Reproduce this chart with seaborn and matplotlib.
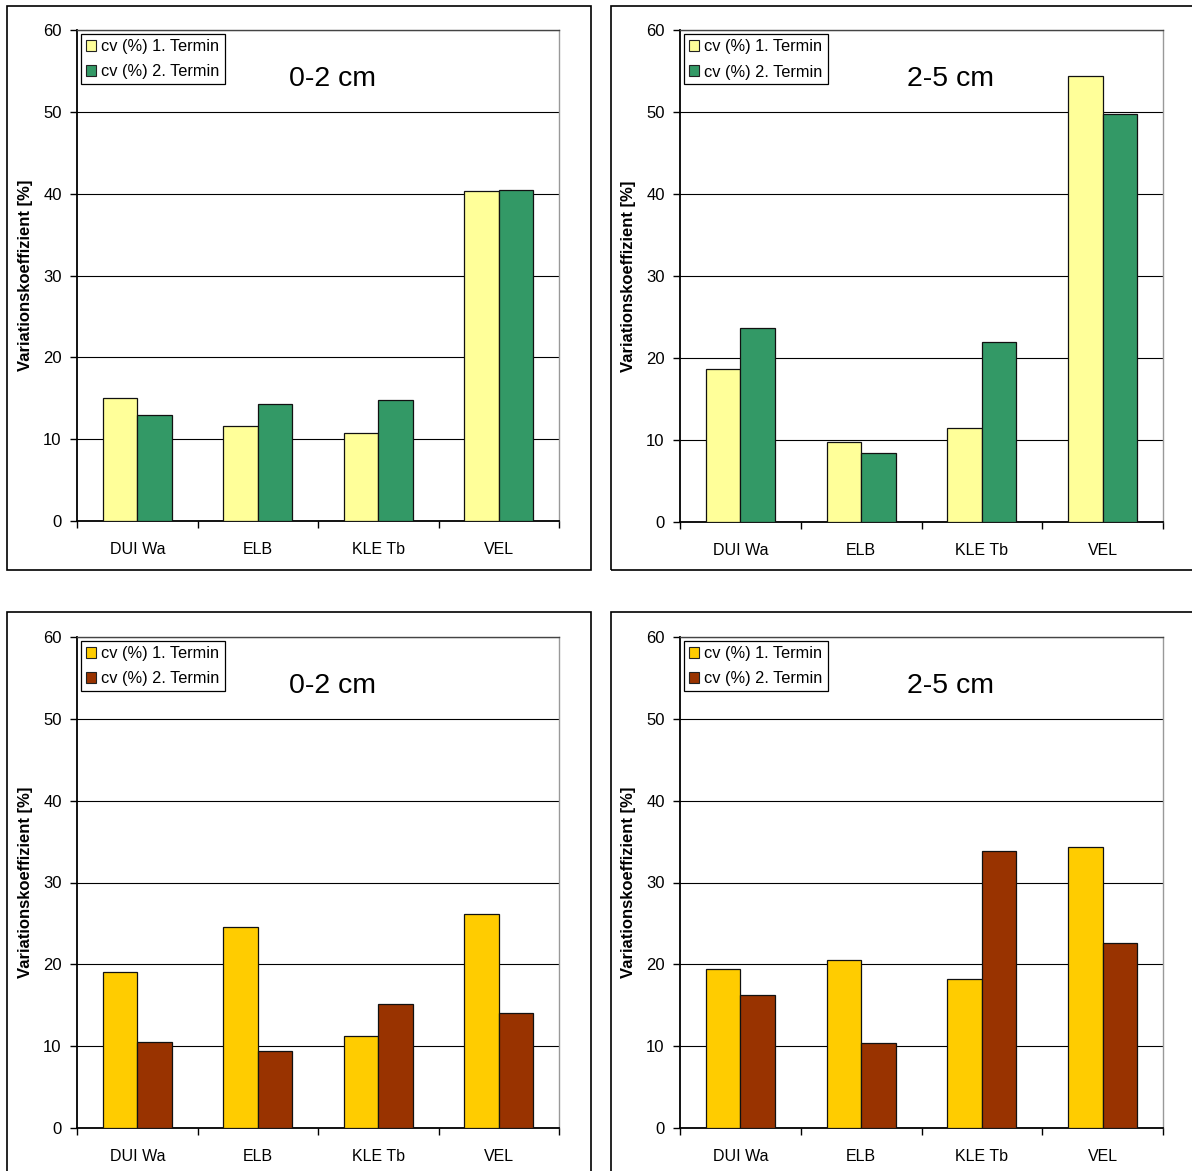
import matplotlib
matplotlib.use("Agg")
import matplotlib.pyplot as plt
from matplotlib.patches import Rectangle, Patch
from matplotlib.ticker import FixedLocator
import seaborn as sns
import pandas as pd

sites = ["DUI Wa", "ELB", "KLE Tb", "VEL"]
series = ["cv (%) 1. Termin", "cv (%) 2. Termin"]

tl_t1 = [15.0, 11.6, 10.7, 40.3]
tl_t2 = [13.0, 14.3, 14.8, 40.4]
tr_t1 = [18.7, 9.8, 11.5, 54.4]
tr_t2 = [23.6, 8.4, 22.0, 49.7]
bl_t1 = [19.1, 24.6, 11.2, 26.1]
bl_t2 = [10.5, 9.4, 15.2, 14.0]
br_t1 = [19.4, 20.5, 18.2, 34.3]
br_t2 = [16.3, 10.4, 33.9, 22.6]

titles = ["0-2 cm", "2-5 cm", "0-2 cm", "2-5 cm"]
ylabel = "Variationskoeffizient [%]"
yticks = [0, 10, 20, 30, 40, 50, 60]

pal_top = ["#FFFF99", "#339966"]
pal_bot = ["#FFCC00", "#993300"]

sns.set_theme(style="white")
plt.rcParams["font.family"] = ["Liberation Sans", "DejaVu Sans"]
plt.rcParams["text.color"] = "black"
plt.rcParams["xtick.color"] = "black"
plt.rcParams["ytick.color"] = "black"
plt.rcParams["axes.labelcolor"] = "black"

W, H = 1192, 1171
fig = plt.figure(figsize=(W / 100, H / 100), dpi=100)

def fx(px):
    return px / W

def fy(py):
    return 1 - py / H

panels = [
    ((7, 6, 591, 570), (77, 30, 559, 521), tl_t1, tl_t2, pal_top, 0.531),
    ((611, 6, 1198, 570), (680, 30, 1163, 522), tr_t1, tr_t2, pal_top, 0.561),
    ((7, 612, 591, 1180), (77, 637, 559, 1128), bl_t1, bl_t2, pal_bot, 0.531),
    ((611, 612, 1198, 1180), (680, 637, 1163, 1128), br_t1, br_t2, pal_bot, 0.561),
]

for i, (frame, axbox, v1, v2, pal, tx) in enumerate(panels):
    fig.patches.append(Rectangle((fx(frame[0]), fy(frame[3])),
                                 fx(frame[2] - frame[0]), (frame[3] - frame[1]) / H,
                                 transform=fig.transFigure, fill=False,
                                 edgecolor="black", linewidth=1.2, zorder=0))
    ax = fig.add_axes([fx(axbox[0]), fy(axbox[3]),
                       fx(axbox[2] - axbox[0]), (axbox[3] - axbox[1]) / H])
    df = pd.DataFrame({
        "site": sites * 2,
        "termin": [series[0]] * 4 + [series[1]] * 4,
        "cv": list(v1) + list(v2),
    })
    sns.barplot(data=df, x="site", y="cv", hue="termin", palette=pal,
                width=0.57, gap=0, edgecolor="#111111", linewidth=0.9,
                saturation=1, ax=ax, legend=False, zorder=3)
    ax.set_xlim(-0.5, 3.5)
    ax.set_ylim(0, 60)
    ax.set_yticks(yticks)
    ax.set_yticklabels([str(t) for t in yticks], fontsize=12)
    ax.yaxis.grid(True, color="black", linewidth=0.8)
    ax.set_axisbelow(True)
    ax.set_xticks(range(len(sites)))
    ax.set_xticklabels(sites, fontsize=11.5)
    ax.xaxis.set_minor_locator(FixedLocator([-0.5, 0.5, 1.5, 2.5, 3.5]))
    ax.tick_params(axis="x", which="major", length=0, pad=15)
    ax.tick_params(axis="x", which="minor", length=5, width=1, color="black",
                   direction="out", bottom=True)
    ax.tick_params(axis="y", which="major", length=5, width=1, color="black",
                   direction="out", left=True, pad=6)
    ax.set_xlabel("")
    ax.set_ylabel(ylabel, fontsize=12, fontweight="bold", labelpad=7)
    for s in ["left", "bottom"]:
        ax.spines[s].set_color("black")
        ax.spines[s].set_linewidth(1.3)
    ax.spines["top"].set_color("#444444")
    ax.spines["top"].set_linewidth(1.0)
    ax.spines["right"].set_color("#999999")
    ax.spines["right"].set_linewidth(1.0)
    handles = [Patch(facecolor=pal[0], edgecolor="#222222", linewidth=0.8, label=series[0]),
               Patch(facecolor=pal[1], edgecolor="#222222", linewidth=0.8, label=series[1])]
    leg = ax.legend(handles=handles, loc="upper left", bbox_to_anchor=(0.008, 0.992),
                    fontsize=11.8, frameon=True, fancybox=False, framealpha=1,
                    edgecolor="black", handlelength=0.65, handleheight=0.65,
                    handletextpad=0.3, borderpad=0.3, labelspacing=0.65,
                    borderaxespad=0)
    leg.get_frame().set_linewidth(0.9)
    ax.text(tx, 0.90, titles[i], transform=ax.transAxes, ha="center",
            va="center", fontsize=20.5)

fig.savefig("out.png", dpi=100, facecolor="white")
